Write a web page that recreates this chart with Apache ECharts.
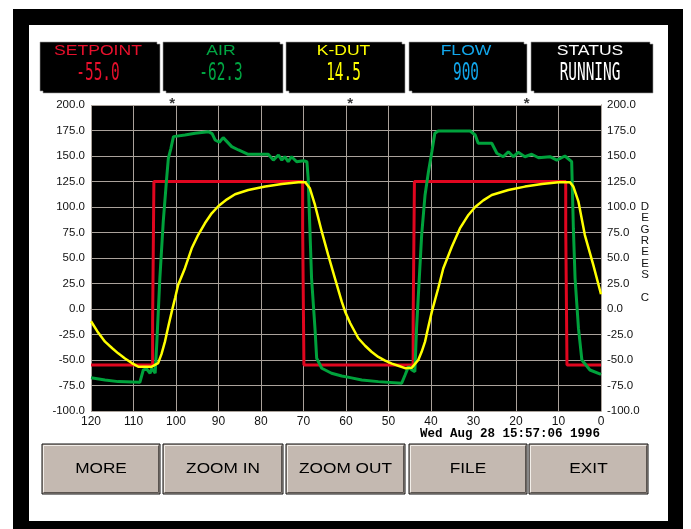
<!DOCTYPE html>
<html>
<head>
<meta charset="utf-8">
<script src="https://cdn.jsdelivr.net/npm/echarts@6/dist/echarts.min.js"></script>
<style>
html,body{margin:0;padding:0;background:#fff;}
#chart{width:691px;height:529px;}
</style>
</head>
<body>
<div id="chart"></div>
<script>
// ---- data (time in seconds before now, temperature in degrees C) ----
const setpointData = [[120,-55],[105.5,-55],[105.5,-12],[105.2,-12],[105.2,125],[70.2,125],[70.2,80],[69.9,80],[69.9,-55],[44.2,-55],[44.2,-12],[43.9,-12],[43.9,125],[8.3,125],[8.3,80],[8.0,80],[8.0,-55],[0,-55]];
const airData = [[120,-67.3],[116.7,-69.6],[113.6,-71.2],[108.5,-71.9],[107.7,-59.8],[106.9,-58.8],[106.1,-63],[105.7,-58.1],[104.9,-63],[104.5,-32],[103.8,30],[103,85.6],[102.2,128],[101.8,147.7],[101.2,157.5],[100.6,169],[97.9,170.6],[95.5,172.2],[92.4,173.8],[91.5,172],[90.8,165.7],[89.8,163.5],[88.9,168],[86.9,159.2],[85.3,155.9],[83,151.7],[78.3,151.7],[77.1,146],[75.9,151],[75.1,146],[74.4,149.3],[73.6,144.4],[72.8,149.3],[71.6,144.4],[70,145.4],[69.2,144.4],[68.9,128.1],[68.5,79],[68.1,30],[67.3,-19],[66.9,-48.3],[65.7,-58.1],[63.4,-63],[61,-65.7],[59,-67.3],[56.3,-69.6],[52.4,-71.2],[46.9,-72.8],[46.1,-64.7],[45.3,-56.5],[44.5,-59.8],[43.8,-61.4],[43.4,-19],[42.8,26.8],[42.2,72.5],[41.4,111.8],[40.6,134.6],[39.8,154.2],[39.1,172.2],[38.3,174.5],[30.8,174.5],[29.6,170.6],[28.9,162.5],[25.7,162.5],[24.5,152.7],[23,149.3],[21.8,154.2],[20.6,149.3],[19.5,153.6],[17.9,149.3],[16.3,151.7],[14.7,148.3],[12,149.3],[10.4,146],[8.5,150],[6.9,144.4],[6.5,79],[6.1,30],[5.3,-19],[4.5,-50],[2.6,-59.8],[0,-64]];
const kdutData = [[120,-12],[118.5,-22],[116.7,-32],[115,-38.5],[113.6,-43.5],[112,-48.5],[110.4,-53],[108.9,-56.5],[105.7,-56.5],[104.2,-53],[103.4,-44],[102.6,-32],[101.8,-17],[101,-2.6],[100.2,11],[99.5,23.5],[97.9,40],[96.3,59.5],[94.8,72.5],[93.2,84],[91.6,93.8],[90,101],[88,107.5],[86.1,112.5],[83,116.7],[79,120],[75.1,122.5],[71.2,124.2],[69.6,124.2],[68.5,118.3],[67.3,102],[65.7,75.8],[64.2,53],[62.6,30],[61,7.2],[60.2,-2.6],[59,-14],[57.1,-28.7],[55.5,-36],[54,-41.9],[52.4,-47],[50.8,-50.7],[49.2,-53.5],[47.7,-55.6],[46.1,-58],[44.5,-57.5],[43,-50],[42.2,-42],[41.4,-32],[40.6,-17],[39.8,-2.6],[38.3,20.3],[37.1,40],[35.1,61],[33.2,79],[31.2,92.2],[29.6,100],[27.7,106.5],[25.7,111.8],[21.8,116.7],[17.9,120],[13.9,122.5],[10,124.2],[7.3,124.2],[6.5,120],[5.3,105.2],[3.8,72.5],[1.8,43],[0,14.5]];
const markerTimes = [100.9, 59.0, 17.5];
const xTicks = {min: 0, max: 120, step: 10};
const yTicks = {min: -100, max: 200, step: 25};
const boxTitles = ['SETPOINT','AIR','K-DUT','FLOW','STATUS'];
const boxValues = ['-55.0','-62.3','14.5','900','RUNNING'];
const boxColors = ['#e8102c','#00a542','#ffff00','#12a6ea','#ffffff'];
const buttonLabels = ['MORE','ZOOM IN','ZOOM OUT','FILE','EXIT'];
const dateText = 'Wed Aug 28 15:57:06 1996';
const axisTitle = 'D\nE\nG\nR\nE\nE\nS\n\nC';

// ---- layout ----
const boxEdges = [[40,160],[163,283],[286,405],[409,527],[531,653]];
const btnEdges = [[42,160],[163,283],[286,405],[409,527],[529,648]];
const SANS = '"Liberation Sans", Arial, sans-serif';

const graphics = [
  {type:'rect', z:-100, shape:{x:13,y:9,width:670,height:540}, style:{fill:'#000'}},
  {type:'rect', z:-99, shape:{x:29,y:25,width:639,height:496}, style:{fill:'#fff'}}
];
boxEdges.forEach(function(e, i){
  const l=e[0], r=e[1], t=42, b=93;
  graphics.push({type:'polygon', shape:{points:[[l,t],[r-3,t],[r-3,t+2],[r,t+2],[r,b],[l+3,b],[l+3,b-2],[l,b-2]]}, style:{fill:'#000', stroke:'#9a9a9a', lineWidth:0.6}});
  const cx=(l+r)/2-2;
  graphics.push({type:'text', x:cx, y:50.5, scaleX:1.17, style:{text:boxTitles[i], fill:boxColors[i], font:'15px '+SANS, textAlign:'center', textVerticalAlign:'middle', align:'center', verticalAlign:'middle'}});
  graphics.push({type:'text', x:cx, y:73.5, scaleX:0.6, style:{text:boxValues[i], fill:boxColors[i], font:'24px "DejaVu Sans Mono", monospace', textAlign:'center', textVerticalAlign:'middle', align:'center', verticalAlign:'middle'}});
});
btnEdges.forEach(function(e, i){
  const l=e[0], r=e[1], t=444, b=494;
  graphics.push({type:'rect', shape:{x:l,y:t,width:r-l,height:b-t}, style:{fill:'#c4b9b1', stroke:'#111', lineWidth:1}});
  graphics.push({type:'polyline', shape:{points:[[l+1.5,b-1.5],[l+1.5,t+1.5],[r-1.5,t+1.5]]}, style:{stroke:'#f2eee9', lineWidth:1, fill:null}});
  graphics.push({type:'polyline', shape:{points:[[l+1.5,b-1.5],[r-1.5,b-1.5],[r-1.5,t+1.5]]}, style:{stroke:'#5a5450', lineWidth:1, fill:null}});
  graphics.push({type:'text', x:(l+r)/2, y:469, scaleX:1.15, style:{text:buttonLabels[i], fill:'#000', font:'15px '+SANS, textAlign:'center', textVerticalAlign:'middle', align:'center', verticalAlign:'middle'}});
});
graphics.push({type:'text', x:600, y:434, style:{text:dateText, fill:'#000', font:'bold 12.5px "Liberation Mono", monospace', textAlign:'right', textVerticalAlign:'middle', align:'right', verticalAlign:'middle'}});
graphics.push({type:'text', x:645, y:201, style:{text:axisTitle, fill:'#111', font:'11.5px '+SANS, lineHeight:11.4, textAlign:'center', textVerticalAlign:'top', align:'center', verticalAlign:'top'}});

const gridColor = '#aaa29b';
const yLabel = {fontSize:11.5, fontFamily:SANS, color:'#111', margin:6, formatter:function(v){return v.toFixed(1);}};

const chart = echarts.init(document.getElementById('chart'), null, {renderer:'canvas'});
chart.setOption({
  backgroundColor:'transparent',
  animation:false,
  graphic: graphics,
  grid:{left:91, top:105, width:510, height:306, show:true, backgroundColor:'#000', borderWidth:0},
  xAxis:{type:'value', min:xTicks.min, max:xTicks.max, interval:xTicks.step, inverse:true,
    axisLine:{show:true, lineStyle:{color:gridColor, width:1}}, axisTick:{show:false},
    axisLabel:{fontSize:12, fontFamily:SANS, color:'#111', margin:5},
    splitLine:{show:true, lineStyle:{color:gridColor, width:1}}},
  yAxis:[
    {type:'value', position:'left', min:yTicks.min, max:yTicks.max, interval:yTicks.step,
      axisLine:{show:true, lineStyle:{color:gridColor}}, axisTick:{show:false}, axisLabel:yLabel,
      splitLine:{show:true, lineStyle:{color:gridColor, width:1}}},
    {type:'value', position:'right', min:yTicks.min, max:yTicks.max, interval:yTicks.step,
      axisLine:{show:true, lineStyle:{color:gridColor}}, axisTick:{show:false}, axisLabel:yLabel,
      splitLine:{show:false}}
  ],
  series:[
    {name:'SETPOINT', type:'line', data:setpointData, symbol:'none', lineStyle:{color:'#e0061f', width:3}, z:3},
    {name:'AIR', type:'line', data:airData, symbol:'none', lineStyle:{color:'#00a23c', width:3}, z:4},
    {name:'K-DUT', type:'line', data:kdutData, symbol:'none', lineStyle:{color:'#ffff00', width:2.5}, z:5},
    {name:'marker', type:'scatter', data:markerTimes.map(function(t){return [t, yTicks.max];}), symbolSize:0, clip:false,
      label:{show:true, formatter:'*', position:'inside', offset:[0,-1], color:'#000', fontSize:15, fontWeight:'bold', fontFamily:SANS}, z:6}
  ]
});
</script>
</body>
</html>
